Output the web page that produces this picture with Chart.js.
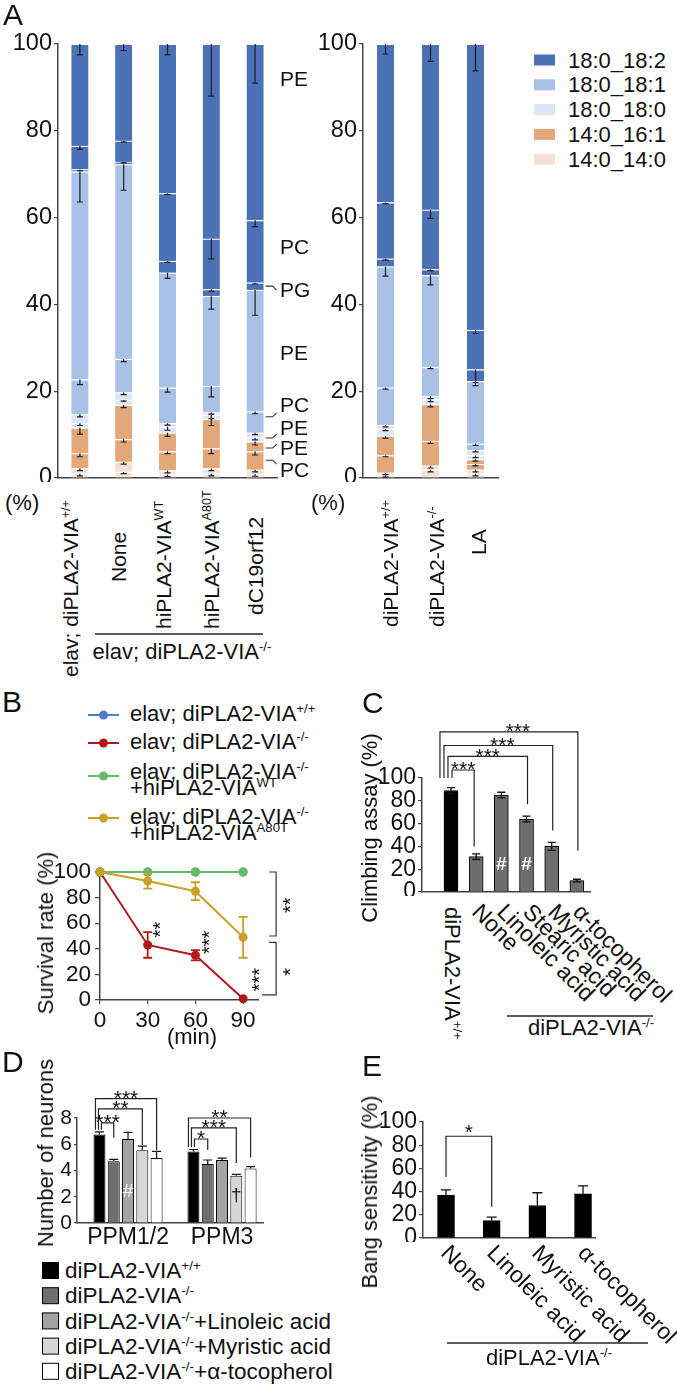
<!DOCTYPE html>
<html><head><meta charset="utf-8">
<script src="https://cdn.jsdelivr.net/npm/chart.js@4.4.1/dist/chart.umd.min.js"></script>
<style>
html,body{margin:0;padding:0;background:#fff}
body{position:relative;width:677px;height:1389px;overflow:hidden;font-family:"Liberation Sans",Arial,Helvetica,sans-serif;color:#111}
.t{position:absolute;white-space:nowrap;line-height:1;transform-origin:0 0;color:#111}
.t sup{font-size:.6em;vertical-align:0;position:relative;top:-.6em;line-height:0}
</style></head><body>
<script>
// ================= DATA =================
// Panel A : lipid composition (%) – segment sizes, bottom to top
const barsA = ['elav; diPLA2-VIA+/+','None','hiPLA2-VIA WT','hiPLA2-VIA A80T','dC19orf12','diPLA2-VIA+/+','diPLA2-VIA-/-','LA'];
const pc_14_14  = [1.0, 1.4, 0.8, 1.0, 0.9, 0.6, 1.9, 1.0];
const pe_14_14  = [1.2, 2.3, 0.9, 1.2, 1.0, 0.6, 0.9, 0.9];
const pc_14_161 = [3.5, 5.2, 4.4, 4.6, 4.2, 4.0, 5.7, 1.3];
const pe_14_161 = [5.9, 7.9, 4.3, 6.8, 2.3, 4.5, 8.5, 1.1];
const pc_18_180 = [1.0, 1.2, 1.4, 0.9, 0.9, 1.6, 1.1, 0.9];
const pe_18_180 = [2.1, 1.7, 0.8, 0.6, 1.1, 0.9, 0.8, 1.2];
const pc_18_181 = [8.0, 7.7, 8.2, 6.1, 4.9, 8.6, 6.6, 1.5];
const pe_18_181 = [47.9,44.9,26.5,20.7,28.0,27.9,21.2,14.4];
const pg_18_182 = [0.5, 0.5, 2.7, 1.6, 1.7, 1.8, 1.4, 2.7];
const pc_18_182 = [5.4, 4.9, 15.6,11.6,14.4,13.0,13.7, 9.1];
const pe_18_182 = [23.5,22.3,34.4,44.9,40.6,36.5,38.2,65.9];
// errors (SEM) of each segment
const e_pc_14_14  = [0.5,0.4,0.5,0.5,0.5,0.4,0.5,0.5];
const e_pe_14_14  = [0.5,0.5,0.5,0.5,0.5,0.4,0.5,0.5];
const e_pc_14_161 = [0.8,0.6,0.5,1.2,0.8,0.3,0.5,0.4];
const e_pe_14_161 = [1.5,0.6,0.8,1.5,0.8,0.5,0.6,0.4];
const e_pc_18_180 = [0.5,0.3,0.8,0.8,0.5,0.4,0.5,0.5];
const e_pe_18_180 = [0.6,0.5,0.4,0.4,0.4,0.4,0.6,0.4];
const e_pc_18_181 = [1.2,0.6,1.0,2.5,0.5,0.3,0.3,0.4];
const e_pe_18_181 = [7.0,6.0,1.3,3.0,5.8,2.2,2.2,0.3];
const e_pg_18_182 = [0.3,0.2,0.3,0.5,0.3,0.3,0.3,3.7];
const e_pc_18_182 = [0.8,0.3,0.3,4.6,1.5,0.3,2.0,0.8];
const e_pe_18_182 = [2.5,1.5,2.5,12.0,9.0,2.3,4.0,6.2];
const legendA = ['18:0_18:2','18:0_18:1','18:0_18:0','14:0_16:1','14:0_14:0'];

// Panel B : survival rate (%)
const timeB = [0, 30, 60, 90];
const survWT    = [100, 100, 100, 100];
const survKO    = [100, 43, 35, 1];
const survKOwt  = [100, 100, 100, 100];
const survKOa80 = [100, 93, 85, 49];
const errKO     = [0, 10, 4, 0];
const errKOa80  = [0, 6, 7, 16];

// Panel C : climbing assay (%)
const groupsC = ['diPLA2-VIA+/+','None','Linoleic acid','Stearic acid','Myristic acid','α-tocopherol'];
const climbC  = [89, 31, 85, 64, 40, 10];
const errC    = [2.5, 2.5, 2.5, 2.5, 3.5, 1.2];

// Panel D : number of neurons
const groupsD = ['PPM1/2','PPM3'];
const nWT  = [6.75, 5.45];
const nKO  = [4.7, 4.5];
const nLA  = [6.4, 4.8];
const nMA  = [5.55, 3.6];
const nTOC = [4.95, 4.15];
const eWT  = [0.2, 0.15];
const eKO  = [0.15, 0.3];
const eLA  = [0.5, 0.15];
const eMA  = [0.3, 0.1];
const eTOC = [0.5, 0.15];

// Panel E : bang sensitivity (%)
const groupsE = ['None','Linoleic acid','Myristic acid','α-tocopherol'];
const bangE = [37, 15, 28, 38];
const errE  = [4.5, 3, 11, 7];

// ================= HELPERS =================
const FONT = '"Liberation Sans", Arial, Helvetica, sans-serif';
Chart.defaults.font.family = FONT;
Chart.defaults.color = '#111';

function mk(plot, pad, cfg){
  const W = plot.r-plot.l+pad.l+pad.r, H = plot.b-plot.t+pad.t+pad.b;
  const cv = document.createElement('canvas'); cv.width=W; cv.height=H;
  cv.style.cssText = `position:absolute;left:${plot.l-pad.l}px;top:${plot.t-pad.t}px;width:${W}px;height:${H}px`;
  document.body.appendChild(cv);
  const o = cfg.options;
  Object.assign(o,{responsive:false,maintainAspectRatio:false,animation:false,devicePixelRatio:1,events:[]});
  o.layout = {padding:{top:pad.t,right:pad.r,left:0,bottom:0}};
  o.plugins = Object.assign({legend:{display:false},tooltip:{enabled:false}}, o.plugins||{});
  const zero = s=>{s.paddingLeft=s.paddingRight=s.paddingTop=s.paddingBottom=0;};
  o.scales.x.afterFit = s=>{s.height=pad.b; zero(s);};
  o.scales.y.afterFit = s=>{s.width=pad.l; zero(s);};
  const ch = new Chart(cv,cfg);
  ch.ox = plot.l-pad.l; ch.oy = plot.t-pad.t;
  return ch;
}
function yAx(min,max,step,fs,tl,pd){
  return {min,max,ticks:{stepSize:step,autoSkip:false,font:{size:fs},color:'#111',padding:pd},
    grid:{drawOnChartArea:false,drawTicks:true,tickLength:tl,color:'#444',lineWidth:1.2},
    border:{display:true,color:'#444',width:1.5}};
}
function xCat(extra){
  return Object.assign({type:'category',ticks:{display:false},grid:{display:false,drawTicks:false},
    border:{display:true,color:'#444',width:1.5}}, extra||{});
}
const errorBars = {
  id:'errorBars',
  afterDatasetsDraw(chart){
    const {ctx} = chart, ys = chart.scales.y;
    chart.data.datasets.forEach((ds,k)=>{
      if(!ds.errs) return;
      const meta = chart.getDatasetMeta(k);
      ctx.save(); ctx.strokeStyle = ds.errColor||'#111'; ctx.lineWidth = ds.errWidth||1.2;
      meta.data.forEach((el,j)=>{
        const e = ds.errs[j]; if(!e) return;
        const L = Math.abs(ys.getPixelForValue(0)-ys.getPixelForValue(e));
        const x = el.x, y = el.y, c = (ds.capW||6)/2;
        ctx.beginPath();
        if(ds.errMode!=='down'){ctx.moveTo(x,y);ctx.lineTo(x,y-L);ctx.moveTo(x-c,y-L);ctx.lineTo(x+c,y-L);}
        if(ds.errMode!=='up'){ctx.moveTo(x,y);ctx.lineTo(x,y+L);ctx.moveTo(x-c,y+L);ctx.lineTo(x+c,y+L);}
        ctx.stroke();
      });
      ctx.restore();
    });
  }
};
function T(html,x,y,o){
  o=o||{}; const fs=o.fs||22;
  const d=document.createElement('div'); d.className='t'; d.innerHTML=html;
  d.style.fontSize=fs+'px'; d.style.left=x+'px'; d.style.top=y+'px';
  if(o.color) d.style.color=o.color;
  const ax={start:0,middle:-50,end:-100}[o.anchor||'start'];
  d.style.transform=`rotate(${o.rot||0}deg) translate(${ax}%,-50%)`;
  document.body.appendChild(d); return d;
}
function TB(html,x,base,o){o=o||{}; const fs=o.fs||22; return T(html,x,base-0.3465*fs,o);}
const svgNS='http://www.w3.org/2000/svg';
const svg=document.createElementNS(svgNS,'svg');
svg.setAttribute('width',677); svg.setAttribute('height',1389);
svg.style.cssText='position:absolute;left:0;top:0;pointer-events:none';
document.body.appendChild(svg);
function S(tag,attrs){const e=document.createElementNS(svgNS,tag);for(const k in attrs)e.setAttribute(k,attrs[k]);svg.appendChild(e);return e;}
function ast(ctx,t,cx,cy,fs,rot){
  if(!isFinite(cx)||!isFinite(cy)) return;
  ctx.save(); ctx.translate(cx,cy); if(rot) ctx.rotate(rot);
  ctx.font=fs+'px '+FONT; ctx.textAlign='center'; ctx.textBaseline='alphabetic'; ctx.fillStyle='#111';
  ctx.fillText(t,0,0.57*fs); ctx.restore();
}
function brk(ctx,xa,xb,yt,ya,yb){
  ctx.beginPath(); ctx.moveTo(xa,ya); ctx.lineTo(xa,yt); ctx.lineTo(xb,yt); ctx.lineTo(xb,yb); ctx.stroke();
}

// ================= PANEL A =================
const DB='#4a72b4', LB='#a8c1e4', VLB='#dde6f4', OR='#e2a879', PCH='#f5e1d3';
const speciesA = [
  [pc_14_14,e_pc_14_14,PCH],[pe_14_14,e_pe_14_14,PCH],
  [pc_14_161,e_pc_14_161,OR],[pe_14_161,e_pe_14_161,OR],
  [pc_18_180,e_pc_18_180,VLB],[pe_18_180,e_pe_18_180,VLB],
  [pc_18_181,e_pc_18_181,LB],[pe_18_181,e_pe_18_181,LB],
  [pg_18_182,e_pg_18_182,DB],[pc_18_182,e_pc_18_182,DB],[pe_18_182,e_pe_18_182,DB]
];
function dsA(a,b){
  return speciesA.map(([v,e,c])=>({data:v.slice(a,b),errs:e.slice(a,b),errMode:'down',capW:6,errColor:'#1c1c30',errWidth:1.2,
    backgroundColor:c,borderColor:'#fff',borderWidth:{top:1.3,bottom:0,left:0,right:0},borderSkipped:false,barThickness:17}));
}
const tagsA = {
  id:'tagsA',
  afterDraw(ch){
    const {ctx,scales:{y},chartArea:ca} = ch;
    const last = ch.getDatasetMeta(0).data[4];
    const xr = last.x + last.width/2 + 2;
    ctx.save(); ctx.font='21px '+FONT; ctx.fillStyle='#111'; ctx.textBaseline='middle';
    [['PE',92],['PC',53.2],['PG',43.3],['PE',28.8],['PC',16.8],['PE',11.5],['PE',6.9],['PC',1.8]]
      .forEach(([t,v])=>ctx.fillText(t,ca.right+3,y.getPixelForValue(v)+1));
    ctx.strokeStyle='#333'; ctx.lineWidth=1.1;
    [[44.2,1],[14.1,-1],[9.2,-1],[6.9,-1],[4.1,1]].forEach(([v,d])=>{
      const yy=y.getPixelForValue(v);
      ctx.beginPath(); ctx.moveTo(xr,yy); ctx.lineTo(xr+7,yy); ctx.lineTo(xr+11,yy+4*d); ctx.stroke();
    });
    ctx.restore();
  }
};
const chA1 = mk({l:58,t:44,r:277,b:478},{l:58,t:16,r:62,b:4},{
  type:'bar', data:{labels:barsA.slice(0,5),datasets:dsA(0,5)},
  options:{scales:{x:xCat({stacked:true}),y:Object.assign(yAx(0,100,20,23.5,4,2),{stacked:true})}},
  plugins:[errorBars,tagsA]});
const chA2 = mk({l:363,t:44,r:498,b:478},{l:58,t:16,r:4,b:4},{
  type:'bar', data:{labels:barsA.slice(5),datasets:dsA(5,8)},
  options:{scales:{x:xCat({stacked:true}),y:Object.assign(yAx(0,100,20,23.5,4,2),{stacked:true})}},
  plugins:[errorBars]});

TB('A',3,25,{fs:30});
TB('(%)',5,511,{fs:22});
TB('(%)',311,511,{fs:22});
legendA.forEach((t,i)=>{
  const cy=60+24.8*i;
  S('rect',{x:534,y:cy-5.5,width:21,height:11,fill:[DB,LB,VLB,OR,PCH][i]});
  T(t,568,cy+0.5,{fs:22});
});
const labA1 = ['elav; diPLA2-VIA<sup>+/+</sup>','None','hiPLA2-VIA<sup>WT</sup>','hiPLA2-VIA<sup>A80T</sup>','dC19orf12'];
const labA1dx = [-10,-6,-5,0,0], labA1y=[677,582,629,629,615];
labA1.forEach((h,i)=>T(h,chA1.ox+chA1.scales.x.getPixelForValue(i)+labA1dx[i],labA1y[i],{fs:21,rot:-90}));
const labA2 = ['diPLA2-VIA<sup>+/+</sup>','diPLA2-VIA<sup>-/-</sup>','LA'];
const labA2dx=[4,5,2], labA2y=[627,627,555];
labA2.forEach((h,i)=>T(h,chA2.ox+chA2.scales.x.getPixelForValue(i)+labA2dx[i],labA2y[i],{fs:21,rot:-90}));
S('line',{x1:95,y1:634,x2:263,y2:634,stroke:'#222','stroke-width':1.3});
TB('elav; diPLA2-VIA<sup>-/-</sup>',182,660,{fs:22,anchor:'middle'});

// ================= PANEL B =================
const RED='#b3191c', BLUE='#4a7cc9', GREEN='#63bb63', GOLD='#c8a028';
const pts = arr=>timeB.map((t,i)=>({x:t,y:arr[i]}));
const lineDs = (arr,c,errs)=>({data:pts(arr),borderColor:c,backgroundColor:c,pointBackgroundColor:c,pointBorderWidth:0,
  pointRadius:4.5,borderWidth:2,clip:false,errs:errs,errMode:'both',errColor:c,errWidth:1.8,capW:9});
const chB = mk({l:100,t:872,r:259,b:1000},{l:60,t:12,r:50,b:40},{
  type:'line',
  data:{datasets:[lineDs(survKOa80,GOLD,errKOa80),lineDs(survKOwt,GREEN),lineDs(survKO,RED,errKO),lineDs(survWT,BLUE)]},
  options:{scales:{
    x:{type:'linear',min:0,max:100,afterBuildTicks:s=>{s.ticks=[0,30,60,90].map(v=>({value:v}));},
       ticks:{font:{size:22.5},color:'#111',padding:3,autoSkip:false,maxRotation:0},grid:{drawOnChartArea:false,tickLength:4,color:'#444',lineWidth:1.2},
       border:{display:true,color:'#444',width:1.5}},
    y:yAx(0,100,20,22.5,5,4)}},
  plugins:[errorBars,{id:'annB',afterDraw(ch){
    const {ctx,scales:{x,y}}=ch; ctx.save(); ctx.strokeStyle='#333'; ctx.lineWidth=1.2;
    const R=-Math.PI/2;
    ast(ctx,'**',x.getPixelForValue(30)+7.5,y.getPixelForValue(55),20,R);
    ast(ctx,'***',x.getPixelForValue(60)+9,y.getPixelForValue(45),20,R);
    ast(ctx,'***',x.getPixelForValue(90)+11,y.getPixelForValue(16),20,R);
    const bx=x.getPixelForValue(90)+33;
    ctx.beginPath(); ctx.moveTo(bx-7,y.getPixelForValue(100)); ctx.lineTo(bx,y.getPixelForValue(100));
    ctx.lineTo(bx,y.getPixelForValue(50)); ctx.lineTo(bx-7,y.getPixelForValue(50)); ctx.stroke();
    ctx.beginPath(); ctx.moveTo(bx-7,y.getPixelForValue(45)); ctx.lineTo(bx,y.getPixelForValue(45));
    ctx.lineTo(bx,y.getPixelForValue(4)); ctx.lineTo(bx-14,y.getPixelForValue(4)); ctx.stroke();
    ast(ctx,'**',bx+9,y.getPixelForValue(74),20,R);
    ast(ctx,'*',bx+9,y.getPixelForValue(22),20,R);
    ctx.restore();
  }}]});
TB('B',2,712,{fs:30});
[[BLUE,715,[['elav; diPLA2-VIA<sup>+/+</sup>',722]]],
 [RED,743,[['elav; diPLA2-VIA<sup>-/-</sup>',750]]],
 [GREEN,776,[['elav; diPLA2-VIA<sup>-/-</sup>',780],['+hiPLA2-VIA<sup>WT</sup>',796]]],
 [GOLD,818,[['elav; diPLA2-VIA<sup>-/-</sup>',825],['+hiPLA2-VIA<sup>A80T</sup>',841]]]].forEach(([c,my,lines])=>{
  S('line',{x1:88,y1:my,x2:119,y2:my,stroke:c,'stroke-width':2});
  S('circle',{cx:103.5,cy:my,r:4.5,fill:c});
  lines.forEach(([h,b])=>TB(h,130,b,{fs:22}));
});
T('Survival rate (%)',45.5,933,{fs:22,rot:-90,anchor:'middle'});
TB('(min)',192,1045,{fs:22,anchor:'middle'});

// ================= PANEL C =================
const chC = mk({l:422,t:778,r:590,b:892},{l:50,t:90,r:6,b:4},{
  type:'bar',
  data:{labels:groupsC,datasets:[{data:climbC,errs:errC,errMode:'both',capW:8,errColor:'#111',errWidth:1.3,
    backgroundColor:['#000','#6e6e6e','#6e6e6e','#6e6e6e','#6e6e6e','#6e6e6e'],borderColor:'#000',borderWidth:1,barThickness:14}]},
  options:{scales:{x:xCat({afterBuildTicks:s=>{s._startValue=-1.15;s._valueRange=6.67;}}),y:yAx(0,100,20,23,4,2)}},
  plugins:[errorBars,{id:'annC',afterDraw(ch){
    const {ctx,scales:{x,y}}=ch; ctx.save(); ctx.strokeStyle='#222'; ctx.lineWidth=1.2;
    const X=i=>x.getPixelForValue(i), Y=v=>y.getPixelForValue(v);
    [[1,1,107,40,0],[-3,3,119,77,0],[-7,4,128.5,54,4],[-11,5,140.5,36.5,9]].forEach(([dx,b,top,lb,tdx])=>{
      const xa=X(0)+dx, xb=X(b)+(b===1?-2:1);
      brk(ctx,xa,xb,Y(top),Y(100),Y(lb));
      ast(ctx,'***',(xa+xb)/2+tdx,Y(top)-5.5,21);
    });
    ctx.fillStyle='#fff'; ctx.font='bold 19px '+FONT; ctx.textAlign='center'; ctx.textBaseline='middle';
    [2,3].forEach(i=>ctx.fillText('#',X(i),Y(24)));
    ctx.restore();
  }}]});
TB('C',362,713,{fs:30});
T('Climbing assay (%)',369.5,828,{fs:22,rot:-90,anchor:'middle'});
groupsC.forEach((g,i)=>{
  const px=chC.ox+chC.scales.x.getPixelForValue(i);
  if(i===0) T('diPLA2-VIA<sup>+/+</sup>',px+1,907,{fs:22,rot:90});
  else T(g,px,908,{fs:23,rot:45});
});
S('line',{x1:507,y1:1016,x2:653,y2:1016,stroke:'#222','stroke-width':1.3});
TB('diPLA2-VIA<sup>-/-</sup>',591,1036,{fs:22,anchor:'middle'});

// ================= PANEL D =================
const colD=['#000','#6e6e6e','#a3a3a3','#d6d6d6','#fff'];
const setsD=[[nWT,eWT],[nKO,eKO],[nLA,eLA],[nMA,eMA],[nTOC,eTOC]];
const chD = mk({l:77,t:1118,r:263,b:1223},{l:40,t:32,r:6,b:34},{
  type:'bar',
  data:{labels:groupsD,datasets:setsD.map(([v,e],k)=>({data:v,errs:e,errMode:'up',capW:9,errColor:'#111',errWidth:1.2,
    backgroundColor:colD[k],borderColor:'#000',borderWidth:1,categoryPercentage:0.76,barPercentage:0.84}))},
  options:{scales:{
    x:xCat({afterBuildTicks:s=>{s._startValue=-0.543;s._valueRange=1.979;},ticks:{display:true,font:{size:23},color:'#111',padding:1,maxRotation:0,autoSkip:false}}),
    y:yAx(0,8,2,21,3,2)}},
  plugins:[errorBars,{id:'annD',afterDraw(ch){
    const {ctx,scales:{y}}=ch; ctx.save(); ctx.strokeStyle='#222'; ctx.lineWidth=1.2;
    const B=(k,c)=>ch.getDatasetMeta(k).data[c].x, Y=v=>y.getPixelForValue(v);
    [[0,1,7.63,7.1,6.5,'***',2],[0,3,8.7,7.1,5.95,'**',-1],[0,4,9.47,7.1,5.56,'***',-4],
     [1,1,6.4,5.8,5.56,'*',1],[1,3,7.25,5.8,4.57,'***',-2],[1,4,8.0,5.8,5.0,'**',-5]].forEach(([c,b,top,la,lb,t,dx])=>{
      const xa=B(0,c)+dx, xb=B(b,c);
      brk(ctx,xa,xb,Y(top),Y(la),Y(lb));
      ast(ctx,t,(xa+xb)/2,Y(top)-5.5,21);
    });
    ctx.font='19px '+FONT; ctx.textAlign='center'; ctx.textBaseline='middle';
    ctx.fillStyle='#fff'; ctx.fillText('#',B(2,0),Y(2.4));
    ctx.fillStyle='#111'; ctx.fillText('†',B(3,1),Y(2.1));
    ctx.restore();
  }}]});
TB('D',2,1072,{fs:30});
T('Number of neurons',45.5,1153,{fs:22,rot:-90,anchor:'middle'});
['diPLA2-VIA<sup>+/+</sup>','diPLA2-VIA<sup>-/-</sup>','diPLA2-VIA<sup>-/-</sup>+Linoleic acid',
 'diPLA2-VIA<sup>-/-</sup>+Myristic acid','diPLA2-VIA<sup>-/-</sup>+α-tocopherol'].forEach((h,i)=>{
  const b=1279+25.2*i;
  S('rect',{x:42.5,y:b-16.5,width:16,height:16,fill:colD[i],stroke:'#000','stroke-width':1});
  TB(h,65,b,{fs:22.5});
});

// ================= PANEL E =================
const chE = mk({l:423,t:1122,r:595,b:1238},{l:50,t:30,r:6,b:4},{
  type:'bar',
  data:{labels:groupsE,datasets:[{data:bangE,errs:errE,errMode:'up',capW:10,errColor:'#111',errWidth:1.3,
    backgroundColor:'#000',borderColor:'#000',borderWidth:1,barThickness:17}]},
  options:{scales:{x:xCat({afterBuildTicks:s=>{s._startValue=-0.504;s._valueRange=3.766;}}),y:yAx(0,100,20,23,4,2)}},
  plugins:[errorBars,{id:'annE',afterDraw(ch){
    const {ctx,scales:{x,y}}=ch; ctx.save(); ctx.strokeStyle='#222'; ctx.lineWidth=1.2;
    const X=i=>x.getPixelForValue(i), Y=v=>y.getPixelForValue(v);
    brk(ctx,X(0),X(1),Y(87.7),Y(52.5),Y(27));
    ast(ctx,'*',(X(0)+X(1))/2,Y(87.7)-9,21);
    ctx.restore();
  }}]});
TB('E',362,1076,{fs:30});
T('Bang sensitivity (%)',370,1192,{fs:22,rot:-90,anchor:'middle'});
groupsE.forEach((g,i)=>T(g,chE.ox+chE.scales.x.getPixelForValue(i)-1,1249,{fs:23,rot:45}));
S('line',{x1:447,y1:1343,x2:648,y2:1343,stroke:'#222','stroke-width':1.3});
TB('diPLA2-VIA<sup>-/-</sup>',549,1366,{fs:22,anchor:'middle'});
</script>
</body></html>
